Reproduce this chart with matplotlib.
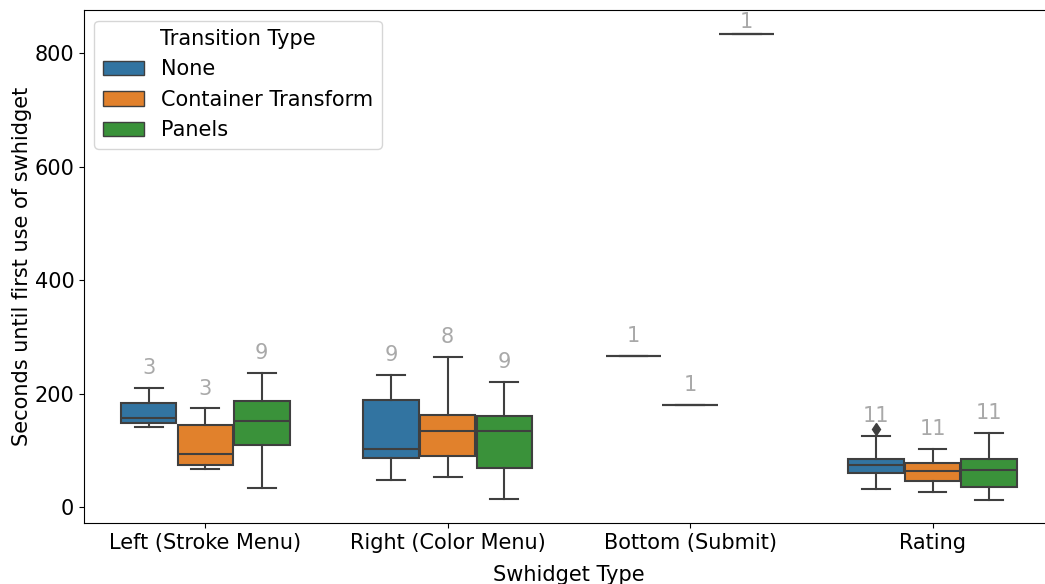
import matplotlib
matplotlib.use("Agg")
import matplotlib.pyplot as plt
from matplotlib.patches import Patch

# categories and hues
categories = ["Left (Stroke Menu)", "Right (Color Menu)", "Bottom (Submit)", "Rating"]
hues = ["None", "Container Transform", "Panels"]
colors = ["#3274a1", "#e1812c", "#3a923a"]

# box stats, one list per hue, in category order
whislo = [[141, 48, 267, 32], [67, 53, 180, 26], [33, 14, 834, 13]]
q1 = [[149, 87, 267, 60], [74, 90, 180, 46], [109, 69, 834, 36]]
med = [[157, 102, 267, 74], [94, 134, 180, 63], [151, 134, 834, 65]]
q3 = [[184, 188, 267, 85], [144, 162, 180, 78], [187, 161, 834, 84]]
whishi = [[210, 233, 267, 125], [174, 264, 180, 102], [237, 221, 834, 131]]
fliers = [[[], [], [], [137]], [[], [], [], []], [[], [], [], []]]
counts = [[3, 9, 1, 11], [3, 8, 1, 11], [9, 9, 1, 11]]

edge = "#3f3f3f"
group_width = 0.7
n = len(hues)
each = group_width / n
ytop = 876

fig = plt.figure(figsize=(10.45, 5.84), dpi=100)
ax = fig.add_axes([0.0804, 0.1045, 0.928, 0.878])

for h in range(n):
    offset = -group_width / 2 + each / 2 + h * each
    stats = []
    for c in range(len(categories)):
        stats.append(dict(med=med[h][c], q1=q1[h][c], q3=q3[h][c],
                          whislo=whislo[h][c], whishi=whishi[h][c],
                          fliers=fliers[h][c]))
    pos = [c + offset for c in range(len(categories))]
    ax.bxp(stats, positions=pos, widths=each * 0.98, patch_artist=True,
           showfliers=True, manage_ticks=False,
           boxprops=dict(facecolor=colors[h], edgecolor=edge, linewidth=1.5),
           medianprops=dict(color=edge, linewidth=1.5),
           whiskerprops=dict(color=edge, linewidth=1.5),
           capprops=dict(color=edge, linewidth=1.5),
           flierprops=dict(marker="d", markerfacecolor=edge, markeredgecolor=edge,
                           markersize=6))
    # sample counts above each box, kept inside the axes
    for c in range(len(categories)):
        ty = min(whishi[h][c] + 35, ytop - 21)
        ax.text(pos[c], ty, str(counts[h][c]), ha="center",
                va="center", color="#a9a9a9", fontsize=15)

ax.set_xlim(-0.5, len(categories) - 0.5)
ax.set_ylim(-28, ytop)
ax.set_xticks(range(len(categories)))
ax.set_xticklabels(categories)
ax.set_yticks([0, 200, 400, 600, 800])
ax.tick_params(labelsize=15)
ax.set_ylabel("Seconds until first use of swhidget", fontsize=15, labelpad=2)
ax.set_xlabel("Swhidget Type", fontsize=15, labelpad=9)

handles = [Patch(facecolor=colors[h], edgecolor=edge, label=hues[h]) for h in range(n)]
ax.legend(handles=handles, title="Transition Type", loc="upper left",
          fontsize=15, title_fontsize=15)

fig.savefig("out.png", dpi=100)
